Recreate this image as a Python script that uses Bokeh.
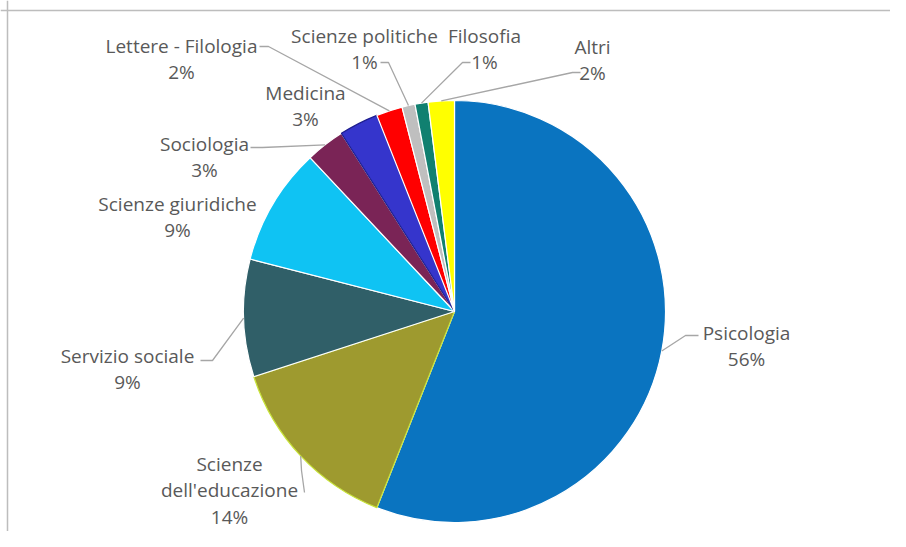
import math
from bokeh.plotting import figure
from bokeh.models import ColumnDataSource, Range1d, Span
from bokeh.core.properties import value
from bokeh.embed import file_html
from bokeh.resources import INLINE

# ---- data ----
categories = ["Psicologia", "Scienze dell'educazione", "Servizio sociale", "Scienze giuridiche",
              "Sociologia", "Medicina", "Lettere - Filologia", "Scienze politiche", "Filosofia", "Altri"]
shares = [56, 14, 9, 9, 3, 3, 2, 1, 1, 2]
pct_labels = ["56%", "14%", "9%", "9%", "3%", "3%", "2%", "1%", "1%", "2%"]
colors = ["#0A74C0", "#9E9A2F", "#305F68", "#0FC3F3", "#7A2456", "#3535CC", "#FF0000", "#BFBFBF", "#108070", "#FFFF00"]
edge_colors = ["white", "#C8E43A", "white", "white", "white", "#1F1F8F", "white", "white", "white", "white"]

# ---- layout (screen pixel coordinates) ----
W, H = 890, 531
def X(px): return px
def Y(py): return H - py

CX, CY, R = 454, 311, 211

# label text lines: (category index, lines, centre x, first line y)
label_layout = [
    (0, ["Psicologia"], 746, 332),
    (1, ["Scienze", "dell'educazione"], 229, 463),
    (2, ["Servizio sociale"], 127, 355),
    (3, ["Scienze giuridiche"], 177, 203),
    (4, ["Sociologia"], 204, 143),
    (5, ["Medicina"], 305, 92),
    (6, ["Lettere - Filologia"], 181, 45),
    (7, ["Scienze politiche"], 364, 35),
    (8, ["Filosofia"], 484, 35),
    (9, ["Altri"], 592, 46),
]
LINE_H = 26.5

# leader lines: label-side points; pie end derived from slice mid-angle
leader_layout = {
    0: [(698, 335), (685, 335)],
    1: [(304, 492), (301, 470)],
    2: [(200, 360), (212, 360)],
    4: [(250, 147), (262, 147)],
    6: [(259, 46), (268, 46)],
    7: [(380, 62), (388, 62)],
    8: [(470, 62), (462, 62)],
    9: [(580, 72), (572, 72)],
}

total = float(sum(shares))
starts, ends, mids = [], [], []
c = 0.0
for s in shares:
    f0 = c / total
    c += s
    f1 = c / total
    starts.append(math.pi / 2 - 2 * math.pi * f0)
    ends.append(math.pi / 2 - 2 * math.pi * f1)
    mids.append(2 * math.pi * (f0 + f1) / 2)

p = figure(width=W, height=H, x_range=Range1d(0, W), y_range=Range1d(0, H),
           output_backend="svg", toolbar_location=None, min_border=0)
p.axis.visible = False
p.grid.visible = False
p.outline_line_color = None
p.background_fill_color = "white"
p.border_fill_color = "white"

# chart area border
p.add_layout(Span(location=X(7), dimension="height", line_color="#BDBDBD", line_width=1.5))
p.add_layout(Span(location=Y(10), dimension="width", line_color="#BDBDBD", line_width=1.5))

src = ColumnDataSource(dict(
    x=[X(CX)] * len(shares), y=[Y(CY)] * len(shares),
    start=starts, end=ends, fill=colors, edge=edge_colors, cat=categories))
p.wedge(x="x", y="y", radius=R, start_angle="start", end_angle="end", direction="clock",
        fill_color="fill", line_color="edge", line_width=1.2, source=src)

# leader lines
xs, ys = [], []
for i, pts in leader_layout.items():
    th = mids[i]
    ex = CX + R * math.sin(th)
    ey = CY - R * math.cos(th)
    allp = pts + [(ex, ey)]
    xs.append([X(a) for a, b in allp])
    ys.append([Y(b) for a, b in allp])
p.multi_line(xs=xs, ys=ys, line_color="#A6A6A6", line_width=1.3)

# labels
tx, ty, tt = [], [], []
for i, lines, cx, y0 in label_layout:
    allines = lines + [pct_labels[i]]
    for k, t in enumerate(allines):
        tx.append(X(cx))
        ty.append(Y(y0 + k * LINE_H))
        tt.append(t)
p.text(x=tx, y=ty, text=tt, text_align="center", text_baseline="middle",
       text_font=value("Open Sans"), text_font_size="19px", text_color="#595959")

open("out.html", "w").write(file_html(p, INLINE))
